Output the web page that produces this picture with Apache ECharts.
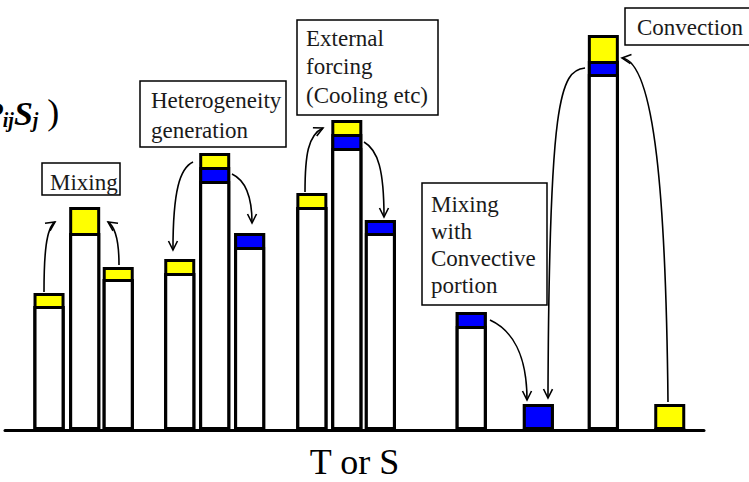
<!DOCTYPE html>
<html>
<head>
<meta charset="utf-8">
<script src="https://cdn.jsdelivr.net/npm/echarts@6/dist/echarts.min.js"></script>
<style>
html,body{margin:0;padding:0;background:#fff;}
#chart{width:749px;height:482px;}
</style>
</head>
<body>
<div id="chart"></div>
<script>
// Bar positions along the "T or S" axis (arbitrary units 0..100)
const barX = [6.3, 11.4, 16.2, 25.0, 30.0, 35.0, 43.9, 48.9, 53.7, 66.7, 76.3, 85.6, 95.1];
// Segment heights (arbitrary units 0..100), bottom to top: white, blue, yellow
const whiteVals  = [31, 49.25, 37.75, 39.25, 62.25, 45.75, 55.75, 70.5, 49.25, 26, 0, 89, 0];
const blueVals   = [0, 0, 0, 0, 3.5, 3.5, 0, 3.5, 3.25, 3.5, 6.5, 3.25, 0];
const yellowVals = [3.25, 6.5, 3, 3.5, 3.5, 0, 3.5, 3.5, 0, 0, 0, 6.5, 6.5];
// Arrows: [x0, y0, c1x, c1y, c2x, c2y, x1, y1] in data units (cubic Bezier, arrowhead at end)
const arrows = [
  [5.58, 34.5, 5.58, 43.75, 5.87, 50.5, 7.15, 52],
  [16.31, 41.25, 16.31, 46.25, 16.02, 50.5, 14.74, 52],
  [26.90, 67, 25.04, 65.5, 24.03, 60, 24.03, 45],
  [32.47, 64, 34.33, 62.5, 35.34, 58.75, 35.34, 51.75],
  [42.92, 59.5, 42.92, 68.75, 43.35, 73.75, 45.49, 75.5],
  [51.36, 72, 53.36, 70, 54.22, 65, 54.22, 53.25],
  [69.38, 27.5, 72.53, 25, 74.68, 18.75, 74.68, 7.5],
  [82.98, 90.5, 79.40, 90, 77.83, 82.5, 77.68, 8],
  [94.85, 7, 94.56, 57.5, 92.99, 92, 88.27, 93]
];
const axisName = 'T or S';
const boxes = [
  {text: 'Mixing', box: [42, 163, 78, 32], tx: 50, ty: 168, lh: 28},
  {text: 'Heterogeneity\ngeneration', box: [140, 81, 146, 66], tx: 151, ty: 85, lh: 30},
  {text: 'External\nforcing\n(Cooling etc)', box: [297, 20, 141, 95], tx: 306, ty: 24, lh: 28.5},
  {text: 'Mixing\nwith\nConvective\nportion', box: [422, 183, 125, 122], tx: 431, ty: 191, lh: 27},
  {text: 'Convection', box: [625, 8, 140, 37], tx: 637, ty: 13, lh: 28}
];

const SERIF = 'Liberation Serif';
const chart = echarts.init(document.getElementById('chart'), null, {renderer: 'svg'});

// cumulative tops so the segments overlay from the baseline up
const topWhite = whiteVals.slice();
const topBlue = whiteVals.map((v, i) => v + blueVals[i]);
const topYellow = topBlue.map((v, i) => v + yellowVals[i]);
function pairs(vals){ return barX.map((x, i) => [x, vals[i]]); }
const barStyle = (color) => ({color: color, borderColor: '#000', borderWidth: 3});

const graphics = [];
boxes.forEach(b => {
  graphics.push({type: 'rect', shape: {x: b.box[0], y: b.box[1], width: b.box[2], height: b.box[3]},
    style: {fill: '#fff', stroke: '#000', lineWidth: 1.5}, z: 10});
  graphics.push({type: 'text', x: b.tx, y: b.ty, z: 11,
    style: {text: b.text, fontFamily: SERIF, fontSize: 23, lineHeight: b.lh, fill: '#1a1a1a', verticalAlign: 'top', align: 'left'}});
});
// partial formula at top left (cut by the left edge as in the reference)
graphics.push({type: 'text', x: -18, y: 90, z: 11, style: {
  text: '{b|P}{s|ij}{b|S}{s|j}{p| )}',
  verticalAlign: 'top',
  rich: {
    b: {fontFamily: SERIF, fontSize: 34, fontStyle: 'italic', fontWeight: 'bold', fill: '#000', lineHeight: 40, verticalAlign: 'bottom'},
    s: {fontFamily: SERIF, fontSize: 20, fontStyle: 'italic', fontWeight: 'bold', fill: '#000', lineHeight: 26, verticalAlign: 'bottom'},
    p: {fontFamily: SERIF, fontSize: 36, fill: '#000', lineHeight: 40, verticalAlign: 'bottom'}
  }
}});

chart.setOption({
  animation: false,
  backgroundColor: '#fff',
  grid: {left: 5, right: 45, top: 30, bottom: 52, containLabel: false, outerBoundsMode: 'none'},
  xAxis: {
    type: 'value', min: 0, max: 100,
    name: axisName, nameLocation: 'middle', nameGap: 14,
    nameTextStyle: {fontFamily: SERIF, fontSize: 36, color: '#000'},
    axisLine: {show: true, onZero: false, lineStyle: {color: '#000', width: 3}},
    axisTick: {show: false}, axisLabel: {show: false}, splitLine: {show: false}
  },
  yAxis: {type: 'value', min: 0, max: 100, show: false, splitLine: {show: false}},
  graphic: graphics,
  series: [
    {type: 'bar', name: 'yellow', barWidth: 31, barGap: '-100%', data: pairs(topYellow), itemStyle: barStyle('#ffff00'), z: 2},
    {type: 'bar', name: 'blue', barWidth: 31, barGap: '-100%', data: pairs(topBlue), itemStyle: barStyle('#0000ff'), z: 3},
    {type: 'bar', name: 'base', barWidth: 31, barGap: '-100%', data: pairs(topWhite), itemStyle: barStyle('#ffffff'), z: 4},
    {
      type: 'custom', name: 'arrows', z: 5, clip: false,
      encode: {x: [0, 2, 4, 6], y: [1, 3, 5, 7]},
      data: arrows,
      renderItem: function (params, api) {
        const p0 = api.coord([api.value(0), api.value(1)]);
        const c1 = api.coord([api.value(2), api.value(3)]);
        const c2 = api.coord([api.value(4), api.value(5)]);
        const p1 = api.coord([api.value(6), api.value(7)]);
        let dx = p1[0] - c2[0], dy = p1[1] - c2[1];
        const len = Math.sqrt(dx * dx + dy * dy) || 1;
        dx /= len; dy /= len;
        const hl = 9, hw = 4.5;
        const pts = [
          [p1[0] - dx * hl - dy * hw, p1[1] - dy * hl + dx * hw],
          [p1[0], p1[1]],
          [p1[0] - dx * hl + dy * hw, p1[1] - dy * hl - dx * hw]
        ];
        return {
          type: 'group',
          children: [
            {type: 'bezierCurve', shape: {x1: p0[0], y1: p0[1], x2: p1[0], y2: p1[1], cpx1: c1[0], cpy1: c1[1], cpx2: c2[0], cpy2: c2[1]},
              style: {stroke: '#000', fill: null, lineWidth: 1.6}},
            {type: 'polyline', shape: {points: pts}, style: {stroke: '#000', fill: null, lineWidth: 1.6}}
          ]
        };
      }
    }
  ]
});
</script>
</body>
</html>
